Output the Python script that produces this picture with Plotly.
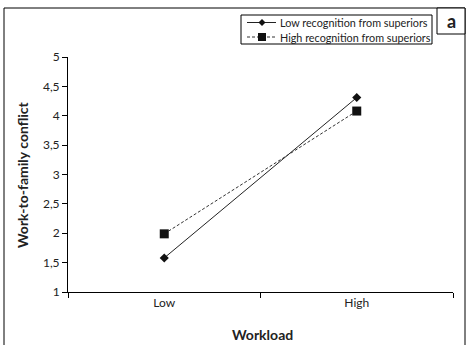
import plotly.graph_objects as go

categories = ["Low", "High"]
low_recognition = [1.58, 4.31]
high_recognition = [1.99, 4.08]
series_names = ["Low recognition from superiors", "High recognition from superiors"]
y_ticks = [1, 1.5, 2, 2.5, 3, 3.5, 4, 4.5, 5]
y_tick_labels = ["1", "1,5", "2", "2,5", "3", "3,5", "4", "4,5", "5"]

W, H = 474, 345
L, R, T, B = 68, 21, 57, 53
pw, ph = W - L - R, H - T - B

def px(x):
    return (x - L) / pw

def py(y):
    return (H - B - y) / ph

FONT = "Lato, 'Open Sans', sans-serif"
INK = "#222222"

fig = go.Figure()
fig.add_trace(go.Scatter(
    x=categories, y=low_recognition, name=series_names[0],
    mode="lines+markers",
    line=dict(color="#222222", width=1),
    marker=dict(symbol="diamond", size=7, color="#111111"),
))
fig.add_trace(go.Scatter(
    x=categories, y=high_recognition, name=series_names[1],
    mode="lines+markers",
    line=dict(color="#333333", width=1, dash="3px,2px"),
    marker=dict(symbol="square", size=9, color="#111111"),
))

line = dict(color="black", width=1)
shapes = [
    # outer frame
    dict(type="line", xref="paper", yref="paper", x0=px(4), x1=px(4), y0=py(8), y1=py(350), line=line),
    dict(type="line", xref="paper", yref="paper", x0=px(4), x1=px(465), y0=py(8), y1=py(8), line=line),
    dict(type="line", xref="paper", yref="paper", x0=px(465), x1=px(465), y0=py(8), y1=py(350), line=line),
    # panel label box
    dict(type="rect", xref="paper", yref="paper", x0=px(437), x1=px(465), y0=py(8), y1=py(34),
         line=line, fillcolor="white"),
    # legend box
    dict(type="rect", xref="paper", yref="paper", x0=px(241), x1=px(432), y0=py(15), y1=py(44),
         line=line, fillcolor="white"),
    # legend samples
    dict(type="line", xref="paper", yref="paper", x0=px(247), x1=px(276), y0=py(22.5), y1=py(22.5),
         line=dict(color="#222222", width=1)),
    dict(type="path", xref="paper", yref="paper",
         path=f"M {px(262)},{py(19)} L {px(265.5)},{py(22.5)} L {px(262)},{py(26)} L {px(258.5)},{py(22.5)} Z",
         line=dict(color="#111111", width=0), fillcolor="#111111"),
    dict(type="line", xref="paper", yref="paper", x0=px(247), x1=px(276), y0=py(37), y1=py(37),
         line=dict(color="#333333", width=1, dash="3px,2px")),
    dict(type="rect", xref="paper", yref="paper", x0=px(258), x1=px(266), y0=py(33), y1=py(41),
         line=dict(color="#111111", width=0), fillcolor="#111111"),
]

annotations = [
    dict(text="<b>a</b>", xref="paper", yref="paper", x=px(451), y=py(21),
         showarrow=False, font=dict(size=18, family=FONT, color=INK),
         xanchor="center", yanchor="middle"),
    dict(text=series_names[0], xref="paper", yref="paper", x=px(278), y=py(22.5),
         showarrow=False, font=dict(size=10.8, family=FONT, color=INK),
         xanchor="left", yanchor="middle"),
    dict(text=series_names[1], xref="paper", yref="paper", x=px(278), y=py(37),
         showarrow=False, font=dict(size=10.8, family=FONT, color=INK),
         xanchor="left", yanchor="middle"),
    dict(text="<b>Workload</b>", xref="paper", yref="paper", x=px(262), y=py(334),
         showarrow=False, font=dict(size=14, family=FONT, color=INK),
         xanchor="center", yanchor="middle"),
    dict(text="<b>Work-to-family conflict</b>", xref="paper", yref="paper", x=px(22), y=py(175),
         showarrow=False, textangle=-90, font=dict(size=14, family=FONT, color=INK),
         xanchor="center", yanchor="middle"),
]

fig.update_layout(
    width=W, height=H,
    margin=dict(l=L, r=R, t=T, b=B, autoexpand=False),
    paper_bgcolor="white", plot_bgcolor="white",
    font=dict(family=FONT, size=12, color=INK),
    showlegend=False,
    xaxis=dict(
        type="category", range=[-0.5, 1.5], automargin=False,
        showline=True, linecolor="black", linewidth=1,
        ticks="outside", ticklen=5, tickcolor="black", tickson="boundaries",
        showgrid=False, zeroline=False, tickfont=dict(size=12),
    ),
    yaxis=dict(
        range=[1, 5], tickvals=y_ticks, ticktext=y_tick_labels, automargin=False,
        showline=True, linecolor="black", linewidth=1,
        ticks="outside", ticklen=5, tickcolor="black",
        showgrid=False, zeroline=False, tickfont=dict(size=12),
    ),
    shapes=shapes,
    annotations=annotations,
)

fig.write_html(
    "out.html",
    config={"displayModeBar": False},
    post_script="document.body.style.margin='0';document.body.style.overflow='hidden';",
)
